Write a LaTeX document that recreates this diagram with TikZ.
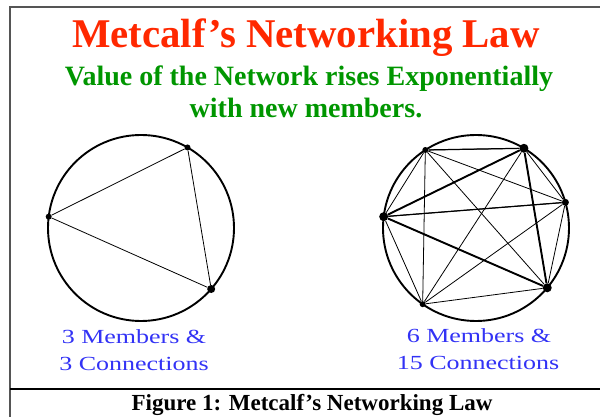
\documentclass[tikz,border=0pt]{standalone}
\usepackage{fontspec}
\setmainfont{Liberation Serif}
\usepackage{graphicx}
\usepackage{tikz}
\definecolor{titlered}{RGB}{255,40,0}
\definecolor{lawgreen}{RGB}{0,150,0}
\definecolor{countblue}{RGB}{50,50,245}
\definecolor{framegray}{RGB}{85,85,85}

\begin{document}
\begin{tikzpicture}[x=1pt, y=1pt,
  ring/.style={line width=1.9pt},
  member/.style={circle, fill=black, inner sep=0pt, minimum size=#1},
  member/.default=5pt,
  link/.style={line width=0.8pt},
  firm/.style={line width=1.2pt},
  strong/.style={line width=1.9pt},
  head/.style={inner sep=0pt, anchor=base, lawgreen,
               font=\bfseries\fontsize{28}{32}\selectfont},
  count/.style={inner sep=0pt, anchor=base, countblue,
                font=\fontsize{20}{24}\selectfont},
]
\useasboundingbox (0,0) rectangle (600,417);
% frame and caption rule
\draw[framegray, line width=1.5pt] (600,410) -- (10,410) -- (10,0);
\draw[line width=1.2pt] (10,28) -- (600,28);

\node[inner sep=0pt, anchor=base, titlered,
      font=\bfseries\fontsize{40.8}{48}\selectfont] (title) at (306,369)
  {Metcalf’s Networking Law};
\node[head] (sub1) at (309,331) {Value of the Network rises Exponentially};
\node[head] (sub2) at (306,299) {with new members.};

% 3 members
\coordinate (Lc) at (141,189);
\draw[ring] (Lc) circle[radius=93];
\foreach \n/\a/\s in {l1/60/6pt, l2/173/6pt, l3/-41/8pt}
  \path (Lc) ++(\a:93) node[member=\s] (\n) {};
\draw[link] (l1) -- (l2) -- (l3) -- (l1);

% 6 members
\coordinate (Rc) at (476,189);
\draw[ring] (Rc) circle[radius=93];
\foreach \n/\a/\s in {r1/123/6pt, r2/59/9pt, r3/16/7pt,
                      r4/-40/9pt, r5/235/6pt, r6/173/9pt}
  \path (Rc) ++(\a:93) node[member=\s] (\n) {};
\foreach \i in {1,...,5} {
  \pgfmathtruncatemacro\k{\i+1}
  \foreach \j in {\k,...,6}
    \draw[link] (r\i) -- (r\j);
}
\draw[firm] (r1) -- (r2);
\draw[firm] (r6) -- (r3);
\draw[strong] (r6) -- (r2) -- (r4) -- (r6);

\node[count] (lm) at (134,73) {\scalebox{1.3}[1]{3 Members \&}};
\node[count] (lc) at (134,46) {\scalebox{1.3}[1]{3 Connections}};
\node[count] (rm) at (479,74) {\scalebox{1.3}[1]{6 Members \&}};
\node[count] (rc) at (478,47) {\scalebox{1.3}[1]{15 Connections}};

\node[inner sep=0pt, anchor=base,
      font=\bfseries\fontsize{23}{26}\selectfont] (caption) at (312,6)
  {Figure 1: Metcalf’s Networking Law};
\end{tikzpicture}
\end{document}
